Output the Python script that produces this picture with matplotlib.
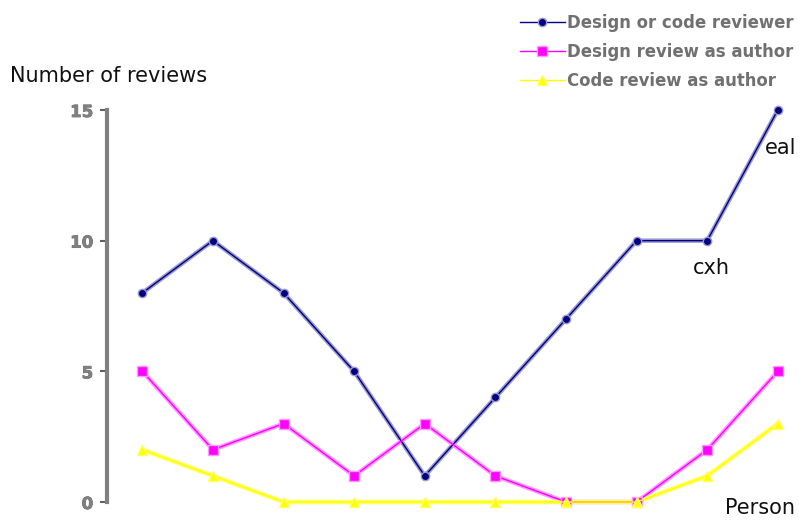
import matplotlib
matplotlib.use("Agg")
import matplotlib.pyplot as plt
import matplotlib.patheffects as pe

persons = list(range(10))
reviewer = [8, 10, 8, 5, 1, 4, 7, 10, 10, 15]
design_author = [5, 2, 3, 1, 3, 1, 0, 0, 2, 5]
code_author = [2, 1, 0, 0, 0, 0, 0, 0, 1, 3]
series_names = ["Design or code reviewer", "Design review as author", "Code review as author"]
yticks = [0, 5, 10, 15]

fig = plt.figure(figsize=(7.99, 5.21), dpi=100)
ax = fig.add_axes([107/799, 1 - 502/521, 1 - 107/799, (502 - 110)/521])

specs = [
    (reviewer, '#000080', '#9a9ad0', 'o', 6),
    (design_author, '#ff00ff', '#ff99ff', 's', 7),
    (code_author, '#ffff00', '#ffff66', '^', 7),
]
handles = []
for (vals, c, light, m, ms), name in zip(specs, series_names):
    ax.plot(persons, vals, color=light, lw=3.2, clip_on=False, zorder=2)
    h, = ax.plot(persons, vals, color=c, lw=1.0, marker=m, ms=ms, mfc=c, mec=light,
                 mew=1, clip_on=False, zorder=3, label=name)
    handles.append(h)

ax.set_xlim(-0.5, 9.3)
ax.set_ylim(0, 15)
ax.set_xticks([])
ax.set_yticks(yticks)
ax.set_yticklabels([str(v) for v in yticks], fontweight='bold', color='#808080', fontsize=12)
for t in ax.get_yticklabels():
    t.set_path_effects([pe.withStroke(linewidth=0.5, foreground='#606060')])
ax.tick_params(axis='y', length=5, width=1.5, color='#606060', pad=5)
for s in ['top', 'right', 'bottom']:
    ax.spines[s].set_visible(False)
ax.spines['left'].set_color('#808080')
ax.spines['left'].set_linewidth(3)

fig.text(10/799, 1 - 76/521, "Number of reviews", fontsize=15, va='center', ha='left', color='#111111')
fig.text(725/799, 1 - 508/521, "Person", fontsize=15, va='center', ha='left', color='#111111')
ax.annotate("eal", (9, 15), xytext=(-9, -27), textcoords='offset points', fontsize=15,
            color='#111111', ha='left', va='center')
ax.annotate("cxh", (8, 10), xytext=(-10, -19.5), textcoords='offset points', fontsize=15,
            color='#111111', ha='left', va='center')

leg = fig.legend(handles=handles, loc='upper left', bbox_to_anchor=(505/799, 1 + 1/521),
                 frameon=False, handlelength=2.7, labelspacing=0.66, handletextpad=0.15,
                 prop={'weight': 'bold', 'size': 11.9})
for t in leg.get_texts():
    t.set_color('#707070')

fig.savefig("out.png", dpi=100)
